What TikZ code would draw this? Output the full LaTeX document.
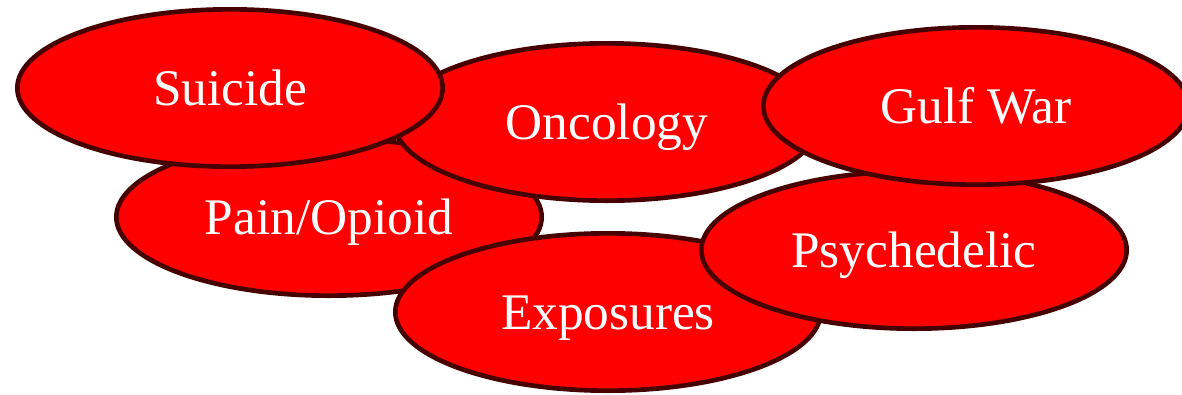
\documentclass[tikz,border=0pt]{standalone}
\usepackage{fontspec}
\setmainfont{Liberation Serif}
\usepackage{tikz}
\usetikzlibrary{shapes.geometric}
\definecolor{blobred}{RGB}{255,0,0}
\definecolor{blobrim}{RGB}{70,0,0}

\begin{document}
\begin{tikzpicture}[
  x=0.75pt, y=-0.75pt,
  font=\fontsize{38.5pt}{42pt}\selectfont,
  blob/.style={ellipse, draw=blobrim, fill=blobred, line width=3.5pt,
               text=white, minimum width=319pt, minimum height=118pt,
               text height=31pt, text depth=5pt, inner sep=0pt},
]
\useasboundingbox (0,0) rectangle (1182,394);
% back row first, so later blobs sit on top
\node[blob] (pain) at (329,217) {Pain/Opioid};
\node[blob] (onco) at (607,122) {Oncology};
\node[blob] (suic) at (230,88) {Suicide};
\node[blob] (expo) at (608,312) {Exposures};
\node[blob] (psych) at (914,250) {Psychedelic};
\node[blob] (gulf) at (976,106) {Gulf War};
\end{tikzpicture}
\end{document}
